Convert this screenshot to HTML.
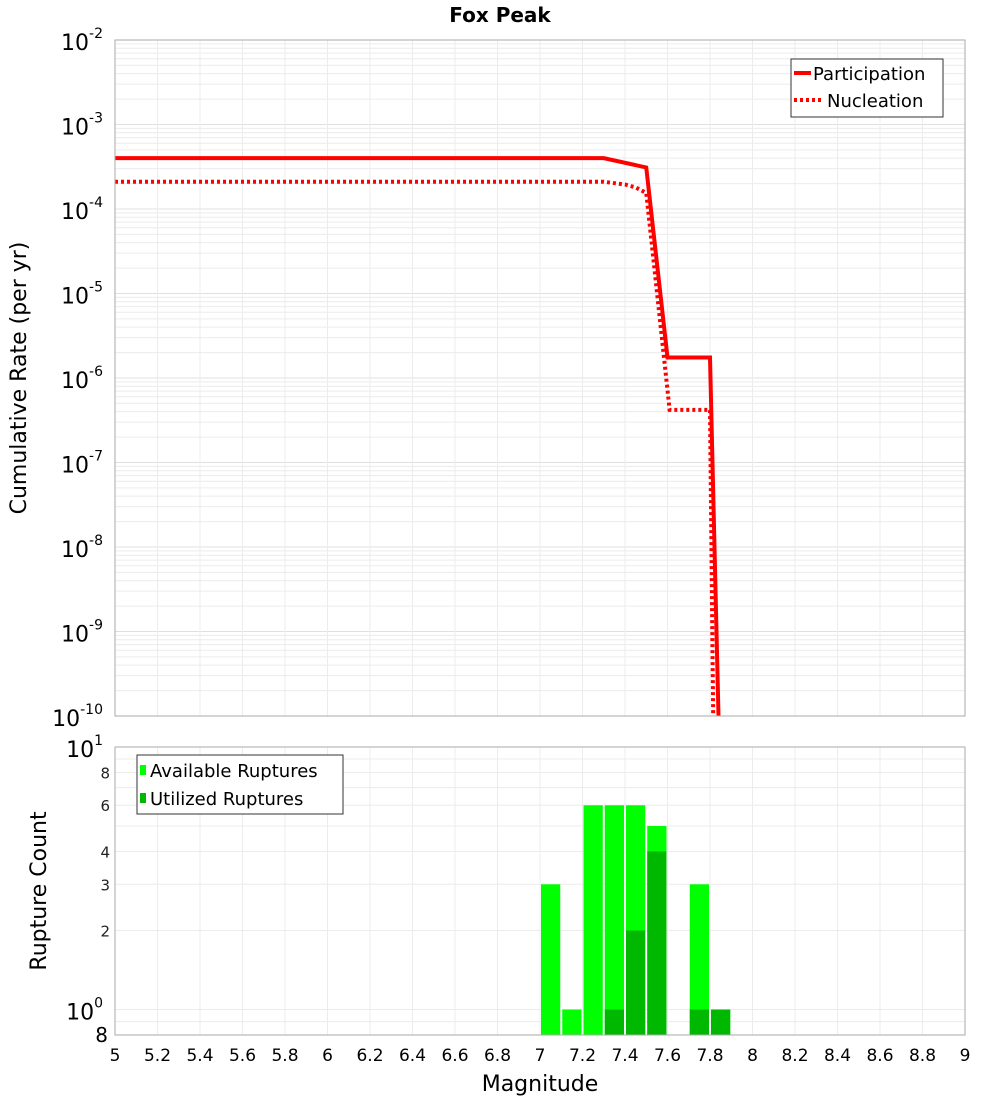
<!DOCTYPE html>
<html><head><meta charset="utf-8"><style>
body{margin:0;background:#fff;font-family:"Liberation Sans","DejaVu Sans",sans-serif}
svg text{font-family:"DejaVu Sans","Liberation Sans",sans-serif}
</style></head><body>
<svg id="c" width="1000" height="1100" xmlns="http://www.w3.org/2000/svg">
<text x="500" y="22" text-anchor="middle" font-size="20" font-weight="bold">Fox Peak</text>
<g id="topg"></g>
<g id="botg"></g>
<text transform="translate(26,378) rotate(-90)" text-anchor="middle" font-size="22">Cumulative Rate (per yr)</text>
<text transform="translate(46,891) rotate(-90)" text-anchor="middle" font-size="22">Rupture Count</text>
<text x="540" y="1091" text-anchor="middle" font-size="22">Magnitude</text>
</svg>
<script>
const partMags=[5,7.3,7.5,7.6,7.8,7.84];
const partRates=[4.0e-4,4.0e-4,3.1e-4,1.75e-6,1.75e-6,1e-10];
const nuclMags=[5,7.3,7.4,7.45,7.5,7.61,7.8,7.815];
const nuclRates=[2.1e-4,2.1e-4,1.95e-4,1.8e-4,1.55e-4,4.2e-7,4.2e-7,1e-10];
const binCenters=[7.05,7.15,7.25,7.35,7.45,7.55,7.65,7.75,7.85];
const availCounts=[3,1,6,6,6,5,0,3,1];
const usedCounts=[0,0,0,1,2,4,0,1,1];
const xTicks=[5,5.2,5.4,5.6,5.8,6,6.2,6.4,6.6,6.8,7,7.2,7.4,7.6,7.8,8,8.2,8.4,8.6,8.8,9];
const NS="http://www.w3.org/2000/svg";
const X0=115,X1=965;
const xS=m=>X0+(m-5)/4*(X1-X0);
const T0=40,T1=716;
const yT=v=>T0+(-2-Math.log10(v))/8*(T1-T0);
const B0=747,B1=1035,bl=Math.log10(0.8);
const yB=v=>B0+(1-Math.log10(v))/(1-bl)*(B1-B0);
function mk(p,t,a){const e=document.createElementNS(NS,t);for(const k in a)e.setAttribute(k,a[k]);p.appendChild(e);return e;}
const topG=document.getElementById('topg'),botG=document.getElementById('botg');
for(let d=-10;d<-2;d++)for(let k=1;k<10;k++){const v=k*Math.pow(10,d);const g=mk(topG,'line',{x1:X0,x2:X1,y1:yT(v),y2:yT(v),stroke:k==1?'#e0e0e0':'#ececec','stroke-width':1});

}
[0.9,1,2,3,4,5,6,7,8,9].forEach(v=>{const g=mk(botG,'line',{x1:X0,x2:X1,y1:yB(v),y2:yB(v),stroke:'#ececec'});

});
xTicks.forEach(m=>{[topG,botG].forEach((p,i)=>{const g=mk(p,'line',{x1:xS(m),x2:xS(m),y1:i?B0:T0,y2:i?B1:T1,stroke:'#ececec'});

});
const t=mk(botG,'text',{x:xS(m),y:1061,'text-anchor':'middle','font-size':17});t.textContent=m;

});
for(let d=-10;d<=-2;d++){const t=mk(topG,'text',{x:103,y:yT(Math.pow(10,d))+10,'text-anchor':'end','font-size':22});
t.innerHTML='10<tspan dy="-12" font-size="14">'+d+'</tspan>';

}
[[10,'10','1'],[1,'10','0']].forEach(([v,b,e])=>{const t=mk(botG,'text',{x:103,y:yB(v)+10,'text-anchor':'end','font-size':22});
t.innerHTML=b+'<tspan dy="-12" font-size="14">'+e+'</tspan>';

});
[2,3,4,6,8].forEach(v=>{const t=mk(botG,'text',{x:110,y:yB(v)+6,'text-anchor':'end','font-size':15,fill:'#222'});t.textContent=v;

});
{const t=mk(botG,'text',{x:108,y:1042,'text-anchor':'end','font-size':20});t.textContent='8';

}
binCenters.forEach((c,i)=>{const l=xS(c-0.05)+1,w=xS(c+0.05)-xS(c-0.05)-2;
if(availCounts[i]>0){const r=mk(botG,'rect',{x:l,y:yB(availCounts[i]),width:w,height:B1-yB(availCounts[i]),fill:'#00ff00'});

}
if(usedCounts[i]>0){const r=mk(botG,'rect',{x:l,y:yB(usedCounts[i]),width:w,height:B1-yB(usedCounts[i]),fill:'#00b800'});

}});
const cl=(m,r)=>m.map((v,i)=>xS(v)+','+Math.min(T1,yT(r[i]))).join(' ');
{const p=mk(topG,'polyline',{points:cl(partMags,partRates),fill:'none',stroke:'#ff0000','stroke-width':4});

}
{const p=mk(topG,'polyline',{points:cl(nuclMags,nuclRates),fill:'none',stroke:'#ff0000','stroke-width':4,'stroke-dasharray':'3,3'});

}
{const r=mk(topG,'rect',{x:X0,y:T0,width:X1-X0,height:T1-T0,fill:'none',stroke:'#aaa'});

}
{const r=mk(botG,'rect',{x:X0,y:B0,width:X1-X0,height:B1-B0,fill:'none',stroke:'#aaa'});

}
{const g=mk(topG,'g',{});


mk(g,'rect',{x:791,y:59,width:152,height:58,fill:'#fff',stroke:'#333'});
mk(g,'line',{x1:794,x2:811,y1:73,y2:73,stroke:'#f00','stroke-width':4});
mk(g,'line',{x1:794,x2:822,y1:100,y2:100,stroke:'#f00','stroke-width':4,'stroke-dasharray':'3,3'});
const a=mk(g,'text',{x:813,y:80,'font-size':18});a.textContent='Participation';
const b=mk(g,'text',{x:827,y:107,'font-size':18});b.textContent='Nucleation';}
{const g=mk(botG,'g',{});


mk(g,'rect',{x:137,y:755,width:206,height:59,fill:'#fff',stroke:'#333'});
mk(g,'rect',{x:140,y:765,width:6,height:10,fill:'#00ff00'});
mk(g,'rect',{x:140,y:793,width:6,height:10,fill:'#00b800'});
const a=mk(g,'text',{x:150,y:777,'font-size':18});a.textContent='Available Ruptures';
const b=mk(g,'text',{x:150,y:805,'font-size':18});b.textContent='Utilized Ruptures';}
</script>
</body></html>
